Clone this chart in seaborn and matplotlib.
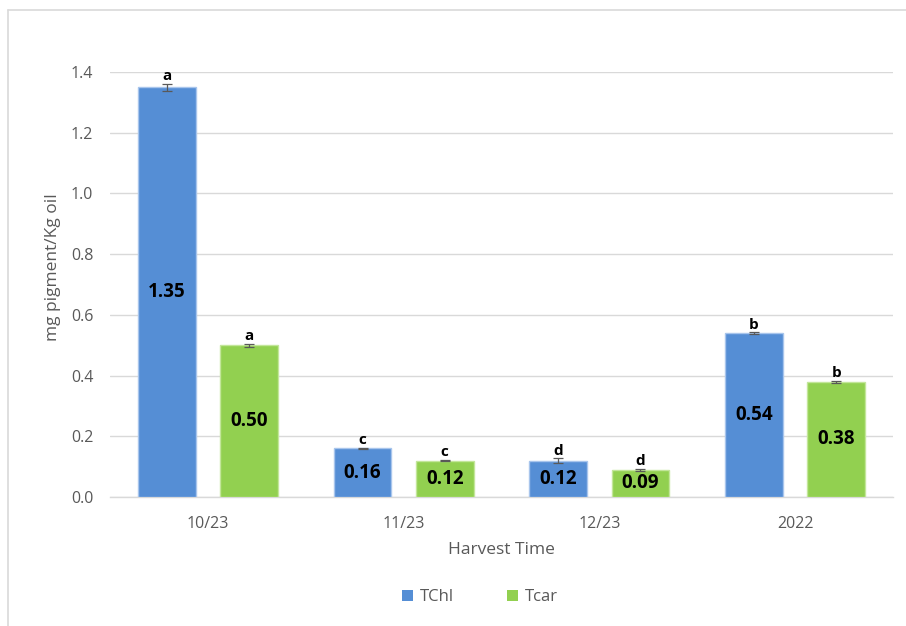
import matplotlib
matplotlib.use("Agg")
import matplotlib.pyplot as plt
from matplotlib.lines import Line2D
from matplotlib.patches import Patch
import seaborn as sns
import pandas as pd

# Pigment content per harvest time
harvest = ["10/23", "11/23", "12/23", "2022"]
tchl = [1.35, 0.16, 0.12, 0.54]
tcar = [0.50, 0.12, 0.09, 0.38]
tchl_err = [0.011, 0.003, 0.007, 0.002]
tcar_err = [0.005, 0.003, 0.003, 0.003]
tchl_letters = ["a", "c", "d", "b"]
tcar_letters = ["a", "c", "d", "b"]
series = ["TChl", "Tcar"]
yticks = [0.0, 0.2, 0.4, 0.6, 0.8, 1.0, 1.2, 1.4]

colors = {"TChl": "#558ED5", "Tcar": "#92D050"}
edges = {"TChl": "#A8C5EC", "Tcar": "#C3E69A"}

df = pd.DataFrame({
    "Harvest": harvest * 2,
    "Series": [series[0]] * 4 + [series[1]] * 4,
    "Value": tchl + tcar,
    "Err": tchl_err + tcar_err,
    "Letter": tchl_letters + tcar_letters,
})

sns.set_theme(style="white")
plt.rcParams["font.family"] = ["Open Sans", "DejaVu Sans"]

fig = plt.figure(figsize=(9.06, 6.26), dpi=100)
ax = fig.add_axes([110 / 906, 1 - 497 / 626, 783 / 906, 425 / 626])

sns.barplot(data=df, x="Harvest", y="Value", hue="Series", order=harvest,
            hue_order=series, palette=colors, saturation=1, errorbar=None,
            width=0.84, gap=0.3, ax=ax, legend=False, zorder=3)

# Bar edges, error bars, value labels and significance letters
for container, name in zip(ax.containers, series):
    sub = df[df["Series"] == name].set_index("Harvest").loc[harvest]
    for patch, (_, row) in zip(container.patches, sub.iterrows()):
        patch.set_edgecolor(edges[name])
        patch.set_linewidth(1.0)
        xc = patch.get_x() + patch.get_width() / 2
        v = row["Value"]
        ax.errorbar(xc, v, yerr=row["Err"], fmt="none", ecolor="#595959",
                    elinewidth=0.9, capsize=3.5, capthick=0.9, zorder=4)
        ax.text(xc, v / 2, f"{v:.2f}", ha="center", va="center",
                fontsize=13.5, fontweight="bold", color="black", zorder=5)
        ax.text(xc, v + row["Err"] + 0.002, row["Letter"], ha="center",
                va="bottom", fontsize=11, fontweight="bold", color="black",
                zorder=5, clip_on=False)

ax.set_ylim(0, 1.4)
ax.set_xlim(-0.5, 3.5)
ax.set_yticks(yticks)
ax.set_yticklabels([f"{t:.1f}" for t in yticks])
ax.yaxis.grid(True, color="#D9D9D9", linewidth=1.0, zorder=0)
ax.set_axisbelow(True)
for side in ["top", "right", "left"]:
    ax.spines[side].set_visible(False)
ax.spines["bottom"].set_color("#D9D9D9")
ax.spines["bottom"].set_linewidth(1.0)
ax.tick_params(axis="y", length=0, pad=12, labelsize=11.5, labelcolor="#595959")
ax.tick_params(axis="x", length=0, pad=14, labelsize=11.5, labelcolor="#595959")

ax.set_xlabel("Harvest Time", fontsize=12.5, color="#595959")
ax.set_ylabel("mg pigment/Kg oil", fontsize=12.5, color="#595959")
ax.xaxis.set_label_coords(0.5, -0.105)
ax.yaxis.set_label_coords(-0.062, 0.54)

handles = [Patch(facecolor=colors[s], edgecolor="none", label=s) for s in series]
fig.legend(handles=handles, loc="center", bbox_to_anchor=(480 / 906, 1 - 597 / 626),
           ncol=2, frameon=False, fontsize=12, labelcolor="#595959",
           handlelength=0.65, handleheight=0.65, handletextpad=0.4,
           columnspacing=3.2)

# Chart area border
fig.add_artist(Line2D([8 / 906, 8 / 906], [0, 1 - 10 / 626], transform=fig.transFigure,
                      color="#D9D9D9", linewidth=1.2))
fig.add_artist(Line2D([8 / 906, 1], [1 - 10 / 626, 1 - 10 / 626], transform=fig.transFigure,
                      color="#D9D9D9", linewidth=1.2))

fig.savefig("out.png", dpi=100, facecolor="white")
